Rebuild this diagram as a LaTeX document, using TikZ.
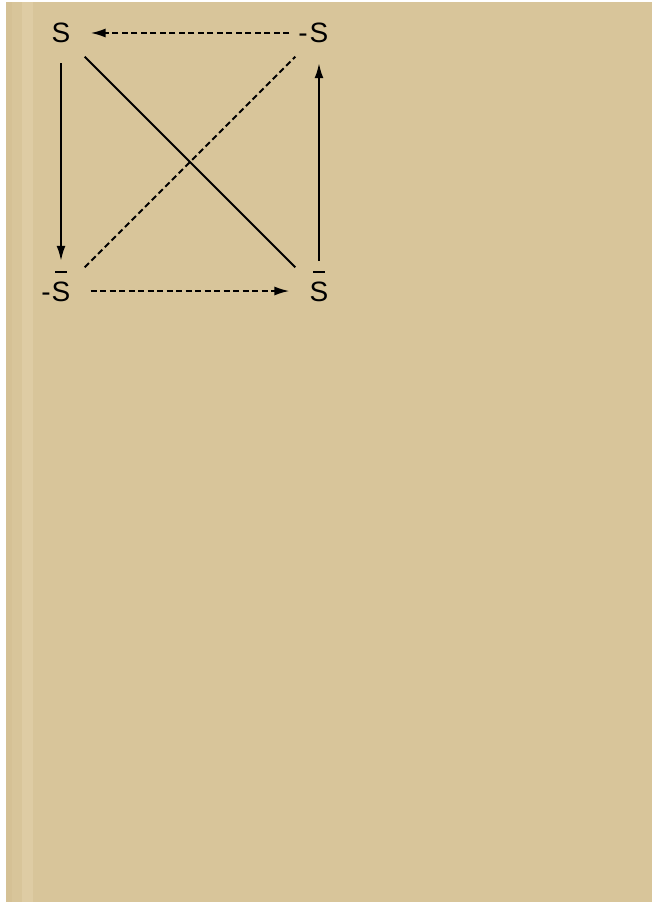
\documentclass[tikz,border=0pt]{standalone}
\usepackage{fontspec}
\setmainfont{Liberation Sans}
\usepackage{tikz}
\usetikzlibrary{arrows.meta}
\usepackage{xcolor}
\definecolor{paper}{RGB}{216,197,154}
\definecolor{paperedge}{RGB}{213,193,149}
\definecolor{paperlight}{RGB}{222,204,164}
\tikzset{>={Latex[length=15pt,width=9pt]}}
% S with a bar over it
\newcommand{\barS}{\rlap{\hspace{0.13em}\raisebox{1em}{\rule{0.41em}{0.075em}}}S}

\begin{document}
\begin{tikzpicture}[x=1pt, y=1pt]
                % paper
                \useasboundingbox (0,0) rectangle (660,-904);
                \fill[white] (0,0) rectangle (660,-904);
                \fill[paper] (6,-2) rectangle (652,-902);
                \fill[paperedge] (6,-2) rectangle (12,-902);
                \fill[paperlight] (22,-2) rectangle (33,-902);

                \tikzstyle{every node}=[inner sep=0pt, text height=20pt, text depth=0pt, font=\fontsize{28}{33}\selectfont, node distance=258pt]
                \tikzstyle{every edge}=[black, line width=2pt, shorten >=20pt, shorten <=20pt, draw]
                \tikzstyle{dashline}=[dash pattern=on 6pt off 3.5pt]
                \node (S) at (61, -33) {S};
                \node (nS) [right of = S] {\llap{-\kern2pt}S};
                \node (nSb) [below of = S] {\llap{-\kern1pt}\barS};
                \node (Sb) [below of = nS] {\barS};

                % square
                \draw (nS) edge[->, dashline] (S);
                \draw (S) edge[->] (nSb);
                \draw (nSb) edge[->, dashline] (Sb);
                \draw (Sb) edge[->] (nS);

                % diagonals
                \draw (S) edge (Sb);
                \draw (nSb) edge[dashline] (nS);
        \end{tikzpicture}
\end{document}
